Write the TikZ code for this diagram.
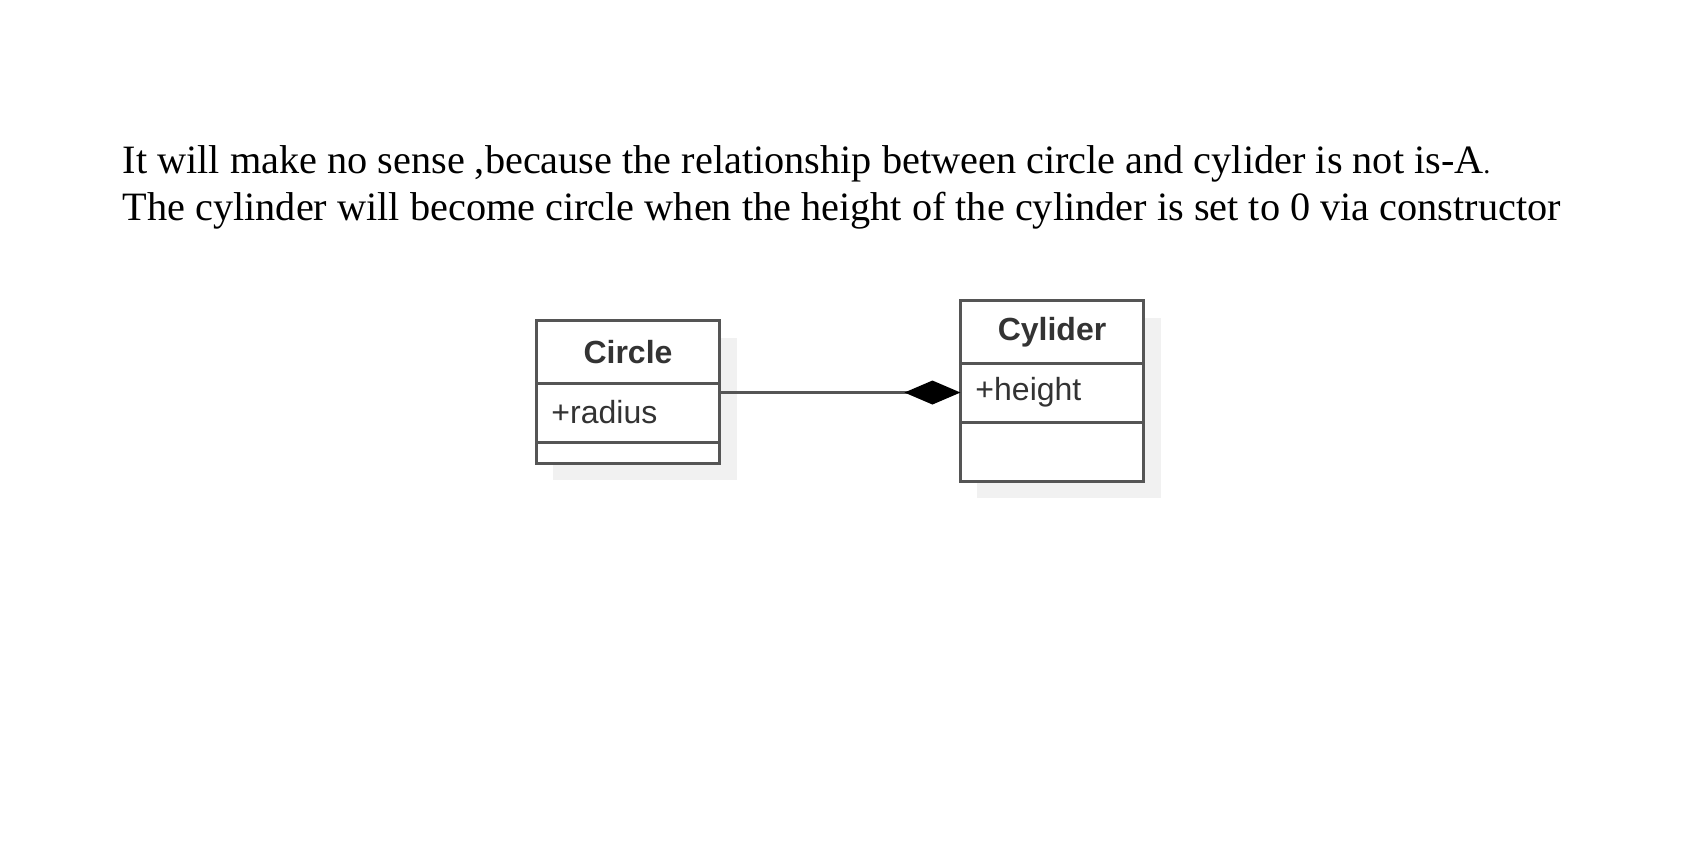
\documentclass[tikz,border=0pt]{standalone}
\usepackage{fontspec}
\setmainfont{Liberation Serif}
\setsansfont{Liberation Sans}
\usepackage{tikz}
\usetikzlibrary{arrows.meta, positioning, shadows}
\definecolor{umlline}{RGB}{85,85,85}
\definecolor{umltext}{RGB}{51,51,51}
\definecolor{umlshadow}{RGB}{241,241,241}

\begin{document}
\begin{tikzpicture}[x=0.01cm, y=-0.01cm,
    classbox/.style={draw=umlline, fill=white, line width=0.03cm, outer sep=0pt, inner xsep=0.15cm, inner ysep=0pt, text width=1.53cm, text=umltext, font=\sffamily\fontsize{9.1}{11}\selectfont, drop shadow={shadow xshift=0.17cm, shadow yshift=-0.17cm, fill=umlshadow, opacity=1}},
    classname/.style={classbox, align=center, minimum height=0.62cm, font=\sffamily\bfseries\fontsize{9.1}{11}\selectfont},
    classpart/.style={classbox, align=left, minimum height=0.59cm},
    sentence/.style={anchor=base west, inner sep=0pt, font=\fontsize{11.45}{14}\selectfont}]

    \useasboundingbox (0,0) rectangle (1698,864);

    % Text
    \node (line1) [sentence] at (122,174) {It will make no sense ,because the relationship between circle and cylider is not is-A{\fontsize{8}{9}\selectfont .}};
    \node (line2) [sentence, below=0.46cm of line1.base west, anchor=base west] {The cylinder will become circle when the height of the cylinder is set to 0 via constructor};

    % Circle class
    \node (circlehead) [classname] at (628,352) {Circle};
    \node (circleattr) [classpart, below=0pt of circlehead] {+radius};
    \node (circleops) [classpart, below=0pt of circleattr, minimum height=0.21cm] {};

    % Cylider class
    \node (cylhead) [classname] at (1052,332) {Cylider};
    \node (cylattr) [classpart, below=0pt of cylhead] {+height};
    \node (cylops) [classpart, below=0pt of cylattr] {};

    % Composition
    \draw[umlline, line width=0.03cm, -{Diamond[length=0.56cm, width=0.24cm, color=black]}] (circleattr.east |- cylattr.west) -- (cylattr.west);
\end{tikzpicture}
\end{document}
